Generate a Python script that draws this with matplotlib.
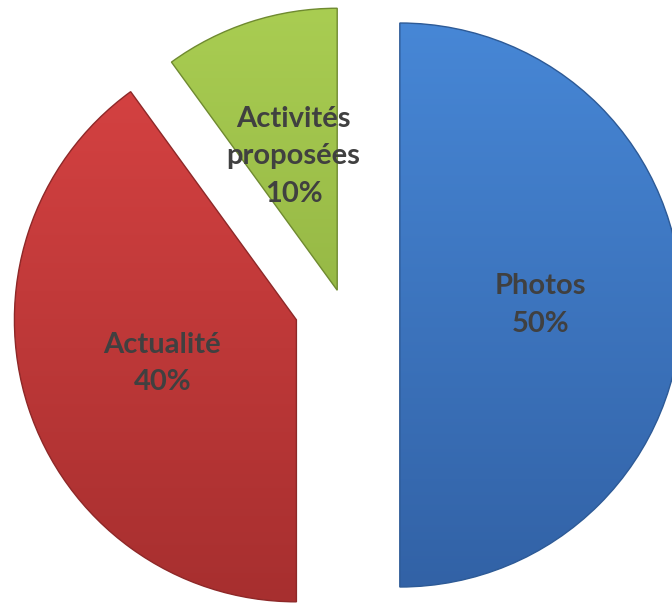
import numpy as np
import matplotlib.pyplot as plt
from matplotlib.colors import LinearSegmentedColormap

categories = ["Photos", "Actualité", "Activités\nproposées"]
shares = [50, 40, 10]
explode = [0.205, 0.17, 0.055]
top_colors = ["#4787d6", "#d84343", "#a9cd52"]
bottom_colors = ["#3262a6", "#a72f2f", "#85a53a"]
edge_colors = ["#2d5a96", "#8e2828", "#6f8a30"]

plt.rcParams['font.family'] = ['Lato', 'DejaVu Sans']

fig = plt.figure(figsize=(6.72, 6.04), dpi=100)
ax = fig.add_axes([0, 0, 1, 1])

labels = [f"{c}\n{v}%" for c, v in zip(categories, shares)]
wedges, texts = ax.pie(
    shares, labels=labels, explode=explode, startangle=90, counterclock=False,
    labeldistance=0.5, radius=1.0,
    wedgeprops=dict(facecolor="none", edgecolor="none"),
    textprops=dict(ha="center", va="center", fontsize=21, fontweight="bold",
                   color="#404040", linespacing=1.55),
)

# vertical gradient fill clipped to each wedge
grad = np.linspace(0, 1, 256).reshape(-1, 1)
for w, c0, c1, ec in zip(wedges, top_colors, bottom_colors, edge_colors):
    cx, cy = w.center
    cmap = LinearSegmentedColormap.from_list("g", [c0, c1])
    im = ax.imshow(grad, cmap=cmap, aspect="auto", origin="upper",
                   extent=(cx - w.r, cx + w.r, cy - w.r, cy + w.r), zorder=1)
    im.set_clip_path(w)
    w.set_edgecolor(ec)
    w.set_linewidth(1.0)
    w.set_zorder(2)

for t in texts:
    t.set_zorder(5)

# pixel framing: radius ~282 px, pie centre at (342, 305) from top-left
r_px = 282.0
ax.set_xlim(-342 / r_px, (672 - 342) / r_px)
ax.set_ylim(-(604 - 305) / r_px, 305 / r_px)
ax.set_aspect("auto")
ax.axis("off")

fig.savefig("out.png", dpi=100)
